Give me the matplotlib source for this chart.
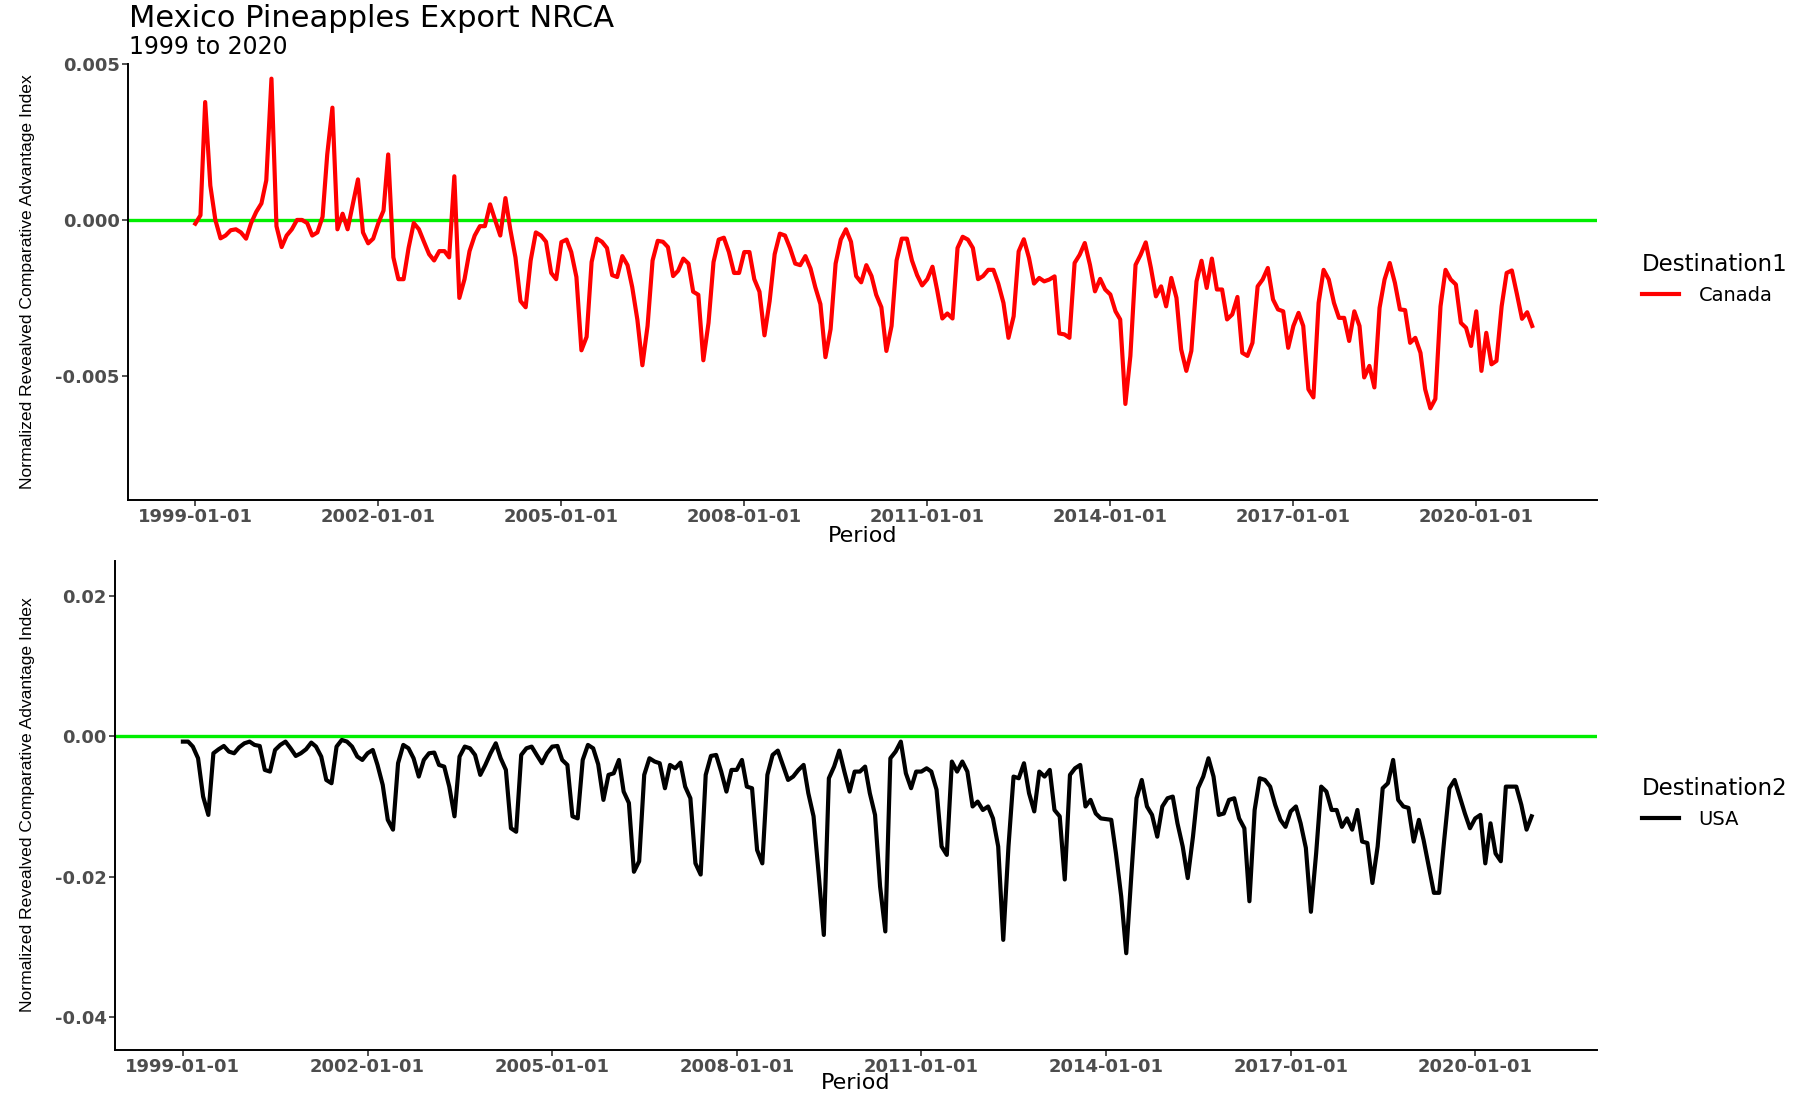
import numpy as np
import pandas as pd
import matplotlib
matplotlib.use("Agg")
from matplotlib import pyplot as plt
import matplotlib.dates as mdates

plt.rcParams['font.family'] = ['DejaVu Sans']
plt.rcParams['axes.unicode_minus'] = False

# monthly periods, 1999-01 .. 2020-12
periods = pd.date_range('1999-01-01', periods=264, freq='MS')

# NRCA Mexico pineapples -> Canada (one row per year)
canada = [
    -0.00012, 0.00015, 0.00378, 0.0011, 0.0, -0.00059, -0.0005, -0.00033, -0.0003, -0.0004, -0.0006, -0.0001,
    0.00026, 0.00053, 0.00127, 0.00453, -0.0002, -0.00087, -0.0005, -0.0003, 0.0, 0.0, -0.0001, -0.0005,
    -0.0004, 0.0001, 0.0021, 0.0036, -0.0003, 0.0002, -0.0003, 0.0005, 0.0013, -0.0004, -0.00075, -0.0006,
    -0.0001, 0.0003, 0.0021, -0.0012, -0.0019, -0.0019, -0.0009, -0.0001, -0.0003, -0.0007, -0.0011, -0.0013,
    -0.001, -0.001, -0.0012, 0.0014, -0.0025, -0.0019, -0.001, -0.0005, -0.0002, -0.0002, 0.0005, 0.0,
    -0.0005, 0.0007, -0.0003, -0.0012, -0.0026, -0.0028, -0.0013, -0.0004, -0.0005, -0.0007, -0.0017, -0.0019,
    -0.00071, -0.00063, -0.00103, -0.00183, -0.00418, -0.00375, -0.00135, -0.0006, -0.0007, -0.0009, -0.00177, -0.00183,
    -0.00116, -0.00145, -0.00215, -0.0032, -0.00466, -0.0034, -0.0013, -0.00067, -0.0007, -0.00087, -0.0018, -0.00163,
    -0.00124, -0.0014, -0.0023, -0.0024, -0.0045, -0.0033, -0.00135, -0.00063, -0.00057, -0.00103, -0.0017, -0.0017,
    -0.00103, -0.00103, -0.0019, -0.0023, -0.0037, -0.0026, -0.0011, -0.00044, -0.0005, -0.0009, -0.0014, -0.00145,
    -0.00116, -0.00156, -0.00215, -0.0027, -0.0044, -0.0035, -0.0014, -0.00063, -0.0003, -0.0007, -0.0018, -0.002,
    -0.00145, -0.0018, -0.0024, -0.0028, -0.0042, -0.0034, -0.0013, -0.0006, -0.0006, -0.0013, -0.00177, -0.0021,
    -0.0019, -0.0015, -0.00225, -0.00316, -0.003, -0.00316, -0.0009, -0.00054, -0.00063, -0.0009, -0.0019, -0.0018,
    -0.0016, -0.0016, -0.00204, -0.00266, -0.00378, -0.00309, -0.00101, -0.00062, -0.00122, -0.00204, -0.00186, -0.00197,
    -0.00191, -0.00181, -0.00364, -0.00367, -0.00378, -0.00138, -0.00112, -0.00074, -0.00144, -0.00229, -0.00189, -0.00223,
    -0.00239, -0.00293, -0.00319, -0.0059, -0.00436, -0.00144, -0.00112, -0.00072, -0.00154, -0.00245, -0.00213, -0.00277,
    -0.00186, -0.0025, -0.00415, -0.00484, -0.0042, -0.00197, -0.00131, -0.00218, -0.00124, -0.00223, -0.00223, -0.00319,
    -0.00303, -0.00247, -0.00426, -0.00436, -0.00394, -0.00213, -0.00191, -0.00154, -0.00255, -0.00287, -0.00293, -0.0041,
    -0.0034, -0.00298, -0.0034, -0.00543, -0.00569, -0.00266, -0.0016, -0.00191, -0.00266, -0.00314, -0.00314, -0.00388,
    -0.00293, -0.0034, -0.00505, -0.00468, -0.00537, -0.00282, -0.00191, -0.00138, -0.00202, -0.00287, -0.00289, -0.00394,
    -0.00378, -0.00426, -0.00543, -0.00604, -0.00574, -0.00277, -0.0016, -0.00191, -0.00207, -0.0033, -0.00346, -0.00404,
    -0.00293, -0.00484, -0.00362, -0.00463, -0.00452, -0.00277, -0.0017, -0.00162, -0.00239, -0.00317, -0.00296, -0.0034,
]

# NRCA Mexico pineapples -> USA
usa = [
    -0.00076, -0.00076, -0.00147, -0.00313, -0.00859, -0.0112, -0.00242, -0.00185, -0.00138, -0.00218, -0.00242, -0.00157,
    -0.001, -0.00076, -0.00123, -0.00138, -0.00479, -0.00503, -0.00195, -0.00123, -0.00076, -0.00171, -0.0028, -0.00242,
    -0.00185, -0.0009, -0.00147, -0.00289, -0.00622, -0.00669, -0.00147, -0.00052, -0.00076, -0.00147, -0.00289, -0.00337,
    -0.00242, -0.00195, -0.00408, -0.00693, -0.0119, -0.0133, -0.00384, -0.00123, -0.00171, -0.00313, -0.00574, -0.00337,
    -0.00242, -0.00232, -0.00408, -0.00432, -0.00717, -0.0114, -0.00289, -0.00147, -0.00171, -0.00266, -0.0055, -0.00408,
    -0.00242, -0.001, -0.00313, -0.00479, -0.0131, -0.0136, -0.00266, -0.00171, -0.00147, -0.00266, -0.00384, -0.00242,
    -0.00147, -0.00138, -0.00337, -0.00408, -0.0114, -0.0117, -0.00337, -0.00123, -0.00171, -0.004, -0.00906, -0.0055,
    -0.00527, -0.00337, -0.00788, -0.0095, -0.0193, -0.0178, -0.0055, -0.00313, -0.0036, -0.00384, -0.0074, -0.00408,
    -0.00456, -0.00375, -0.00717, -0.00883, -0.0181, -0.0197, -0.0055, -0.0028, -0.00266, -0.00503, -0.00788, -0.00479,
    -0.00479, -0.00337, -0.00717, -0.0074, -0.0162, -0.0181, -0.0055, -0.00266, -0.00204, -0.00408, -0.00622, -0.00574,
    -0.0048, -0.00408, -0.00811, -0.0114, -0.0195, -0.0283, -0.00598, -0.00432, -0.00204, -0.00503, -0.00788, -0.00503,
    -0.00503, -0.00432, -0.00811, -0.0112, -0.0214, -0.0278, -0.00313, -0.00218, -0.00076, -0.00527, -0.0074, -0.00503,
    -0.00503, -0.00456, -0.00503, -0.0076, -0.0157, -0.0169, -0.0036, -0.00503, -0.0036, -0.00503, -0.01, -0.0093,
    -0.0105, -0.01, -0.0117, -0.0157, -0.029, -0.0157, -0.00574, -0.00598, -0.00384, -0.00811, -0.0107, -0.00503,
    -0.00574, -0.00479, -0.0105, -0.0114, -0.0204, -0.0055, -0.00456, -0.00408, -0.01, -0.00906, -0.011, -0.0117,
    -0.0118, -0.0119, -0.0167, -0.0228, -0.0309, -0.0195, -0.00883, -0.00622, -0.01, -0.0112, -0.0143, -0.01,
    -0.00883, -0.00859, -0.0124, -0.0157, -0.0202, -0.0143, -0.0074, -0.00574, -0.00313, -0.00574, -0.0112, -0.011,
    -0.00906, -0.00883, -0.0117, -0.0131, -0.0235, -0.0105, -0.00598, -0.00622, -0.00717, -0.00977, -0.0119, -0.0129,
    -0.0107, -0.01, -0.0124, -0.0159, -0.025, -0.0167, -0.00717, -0.00788, -0.0105, -0.0105, -0.0129, -0.0117,
    -0.0133, -0.0105, -0.015, -0.0152, -0.0209, -0.0157, -0.0074, -0.00669, -0.00337, -0.00906, -0.01, -0.0102,
    -0.015, -0.0119, -0.0148, -0.0186, -0.0223, -0.0223, -0.0148, -0.0074, -0.00622, -0.00859, -0.011, -0.0131,
    -0.0117, -0.0112, -0.0181, -0.0124, -0.0167, -0.0178, -0.00717, -0.00717, -0.00717, -0.00977, -0.0133, -0.0114,
]

year_ticks = pd.date_range('1999-01-01', '2020-01-01', freq='36MS')
x_range = (pd.Timestamp('1997-11-24'), pd.Timestamp('2021-12-24'))

W, H = 1804, 1094
fig = plt.figure(figsize=(W / 100, H / 100), dpi=100)

tick_gray = '#4d4d4d'


def px_box(left, top, right, bottom):
    return [left / W, 1 - bottom / H, (right - left) / W, (bottom - top) / H]


def style_axes(ax, ylim, yticks, yfmt, xpad):
    ax.axhline(0, color='#00ee00', lw=2.4, zorder=1)
    ax.set_xlim(*x_range)
    ax.set_ylim(*ylim)
    ax.set_xticks(year_ticks)
    ax.xaxis.set_major_formatter(mdates.DateFormatter('%Y-%m-%d'))
    ax.set_yticks(yticks)
    ax.set_yticklabels([yfmt % v for v in yticks])
    for side in ('top', 'right'):
        ax.spines[side].set_visible(False)
    for side in ('left', 'bottom'):
        ax.spines[side].set_linewidth(1.4)
    ax.tick_params(length=4, width=1.2, color='#333333', pad=2,
                   labelcolor=tick_gray, labelsize=13)
    for lab in ax.get_xticklabels() + ax.get_yticklabels():
        lab.set_fontweight('bold')
    ax.set_xlabel('Period', fontsize=16, labelpad=xpad)


def add_legend(ax, title, top_px):
    ax.legend(loc='upper left', bbox_to_anchor=(1642 / W, 1 - top_px / H),
              bbox_transform=fig.transFigure, frameon=False, borderpad=0,
              borderaxespad=0, handlelength=1.9, handletextpad=1.0,
              alignment='left', title=title, title_fontsize=16.5, fontsize=14)


# top panel: Canada
ax1 = fig.add_axes(px_box(128, 64, 1597, 500))
ax1.plot(periods, canada, color='#ff0000', lw=3.0, label='Canada', zorder=2)
style_axes(ax1, (-0.00898, 0.005), [0.005, 0.0, -0.005], '%.3f', 0)
add_legend(ax1, 'Destination1', 253)

# bottom panel: USA
ax2 = fig.add_axes(px_box(115, 561, 1597, 1050))
ax2.plot(periods, usa, color='#000000', lw=3.0, label='USA', zorder=2)
style_axes(ax2, (-0.04469, 0.02497), [0.02, 0.0, -0.02, -0.04], '%.2f', -2.5)
add_legend(ax2, 'Destination2', 777)

ylab = 'Normalized Revealved Comparative Advantage Index'
fig.text(28 / W, 1 - 282 / H, ylab, rotation=90, ha='center', va='center',
         fontsize=12.6, family='Liberation Sans')
fig.text(28 / W, 1 - 805 / H, ylab, rotation=90, ha='center', va='center',
         fontsize=12.6, family='Liberation Sans')

fig.text(129 / W, 1 - 4 / H, 'Mexico Pineapples Export NRCA', ha='left', va='top', fontsize=22)
fig.text(129 / W, 1 - 35 / H, '1999 to 2020', ha='left', va='top', fontsize=17)

fig.savefig('out.png', dpi=100)
